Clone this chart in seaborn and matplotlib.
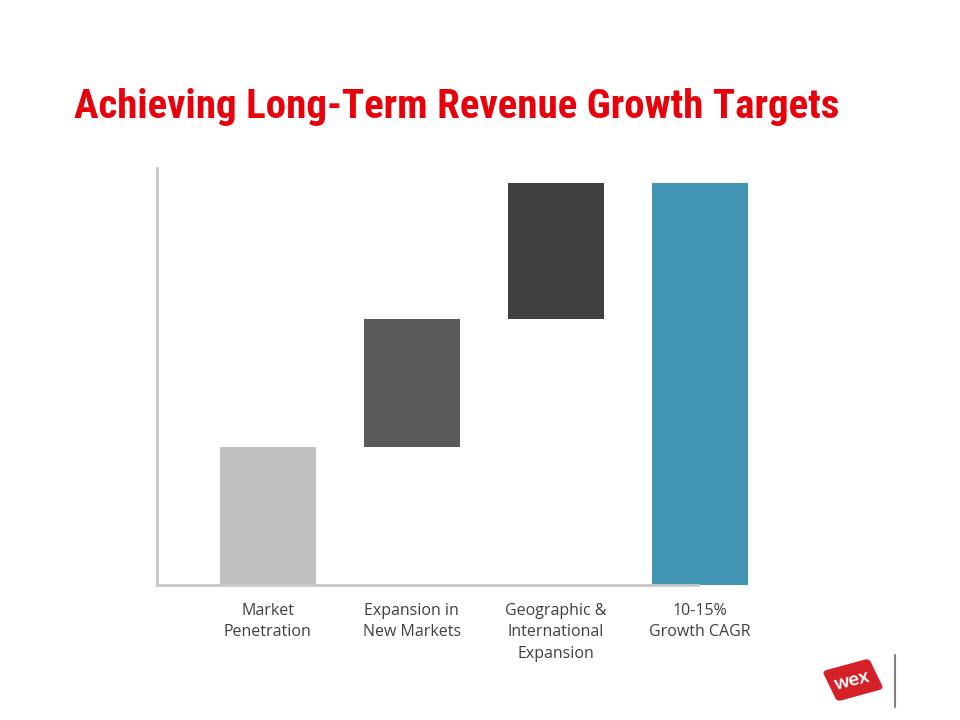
import matplotlib
matplotlib.use("Agg")
import matplotlib.pyplot as plt
import seaborn as sns
import pandas as pd
from matplotlib.patches import FancyBboxPatch
from matplotlib.transforms import Affine2D
from matplotlib.lines import Line2D

# ---- data ----
categories = ["Market\nPenetration", "Expansion in\nNew Markets",
              "Geographic &\nInternational\nExpansion", "10-15%\nGrowth CAGR"]
increments = [3.45, 3.2, 3.4]
total = 10.05
bar_colors = ["#bfbfbf", "#595959", "#404040", "#4296b4"]
title = "Achieving Long-Term Revenue Growth Targets"

# waterfall: top of each bar and hidden base
tops = [increments[0], increments[0] + increments[1],
        increments[0] + increments[1] + increments[2], total]
bases = [0, increments[0], increments[0] + increments[1], 0]
df = pd.DataFrame({"cat": categories, "top": tops, "base": bases})

sns.set_theme(style="white")
plt.rcParams["font.family"] = ["Open Sans", "DejaVu Sans"]

fig = plt.figure(figsize=(9.6, 7.2), dpi=100)
ax = fig.add_axes([0.1635, 0.1875, 0.789 - 0.1635, 0.7667 - 0.1875])

sns.barplot(data=df, x="cat", y="top", hue="cat", palette=bar_colors,
            width=0.67, saturation=1, legend=False, ax=ax, linewidth=0)
sns.barplot(data=df, x="cat", y="base", color="white", width=0.69,
            saturation=1, ax=ax, linewidth=0)

ax.set_xlim(-0.77, 3.4)
ax.set_ylim(0, 10.42)
ax.set_xlabel("")
ax.set_ylabel("")
ax.set_yticks([])
for s in ["top", "right"]:
    ax.spines[s].set_visible(False)
for s in ["left", "bottom"]:
    ax.spines[s].set_color("#c8c8c8")
    ax.spines[s].set_linewidth(2)
    ax.spines[s].set_zorder(5)
ax.spines["bottom"].set_bounds(-0.77, 2.99)
ax.tick_params(axis="x", length=0, pad=13, labelsize=11.5, labelcolor="#404040")
for lbl in ax.get_xticklabels():
    lbl.set_linespacing(1.45)
    lbl.set_horizontalalignment("center")

fig.text(0.077, 1 - 118 / 720, title, color="#e8000b", fontsize=29.5,
         fontweight="bold", family=["Roboto Condensed", "DejaVu Sans"],
         va="baseline", ha="left")

# logo
cx, cy = 853 / 960, 1 - 680 / 720
rect = FancyBboxPatch((cx - 22 / 960, cy - 14 / 720), 44 / 960, 28 / 720,
                      boxstyle="round,pad=0.003,rounding_size=0.005",
                      transform=fig.transFigure, facecolor="#d42027",
                      edgecolor="none")
rot = Affine2D().rotate_deg_around(cx, cy, 20)
rect.set_transform(rot + fig.transFigure)
fig.patches.append(rect)
fig.text(cx - 0.001, cy, "wex", color="white", fontsize=14,
         fontweight="bold", ha="center", va="center", rotation=14,
         family=["Lato", "DejaVu Sans"])
fig.lines.append(Line2D([895 / 960, 895 / 960], [1 - 655 / 720, 1 - 707 / 720],
                        transform=fig.transFigure, color="#808080", lw=1.5))

fig.savefig("out.png", dpi=100, facecolor="white")
